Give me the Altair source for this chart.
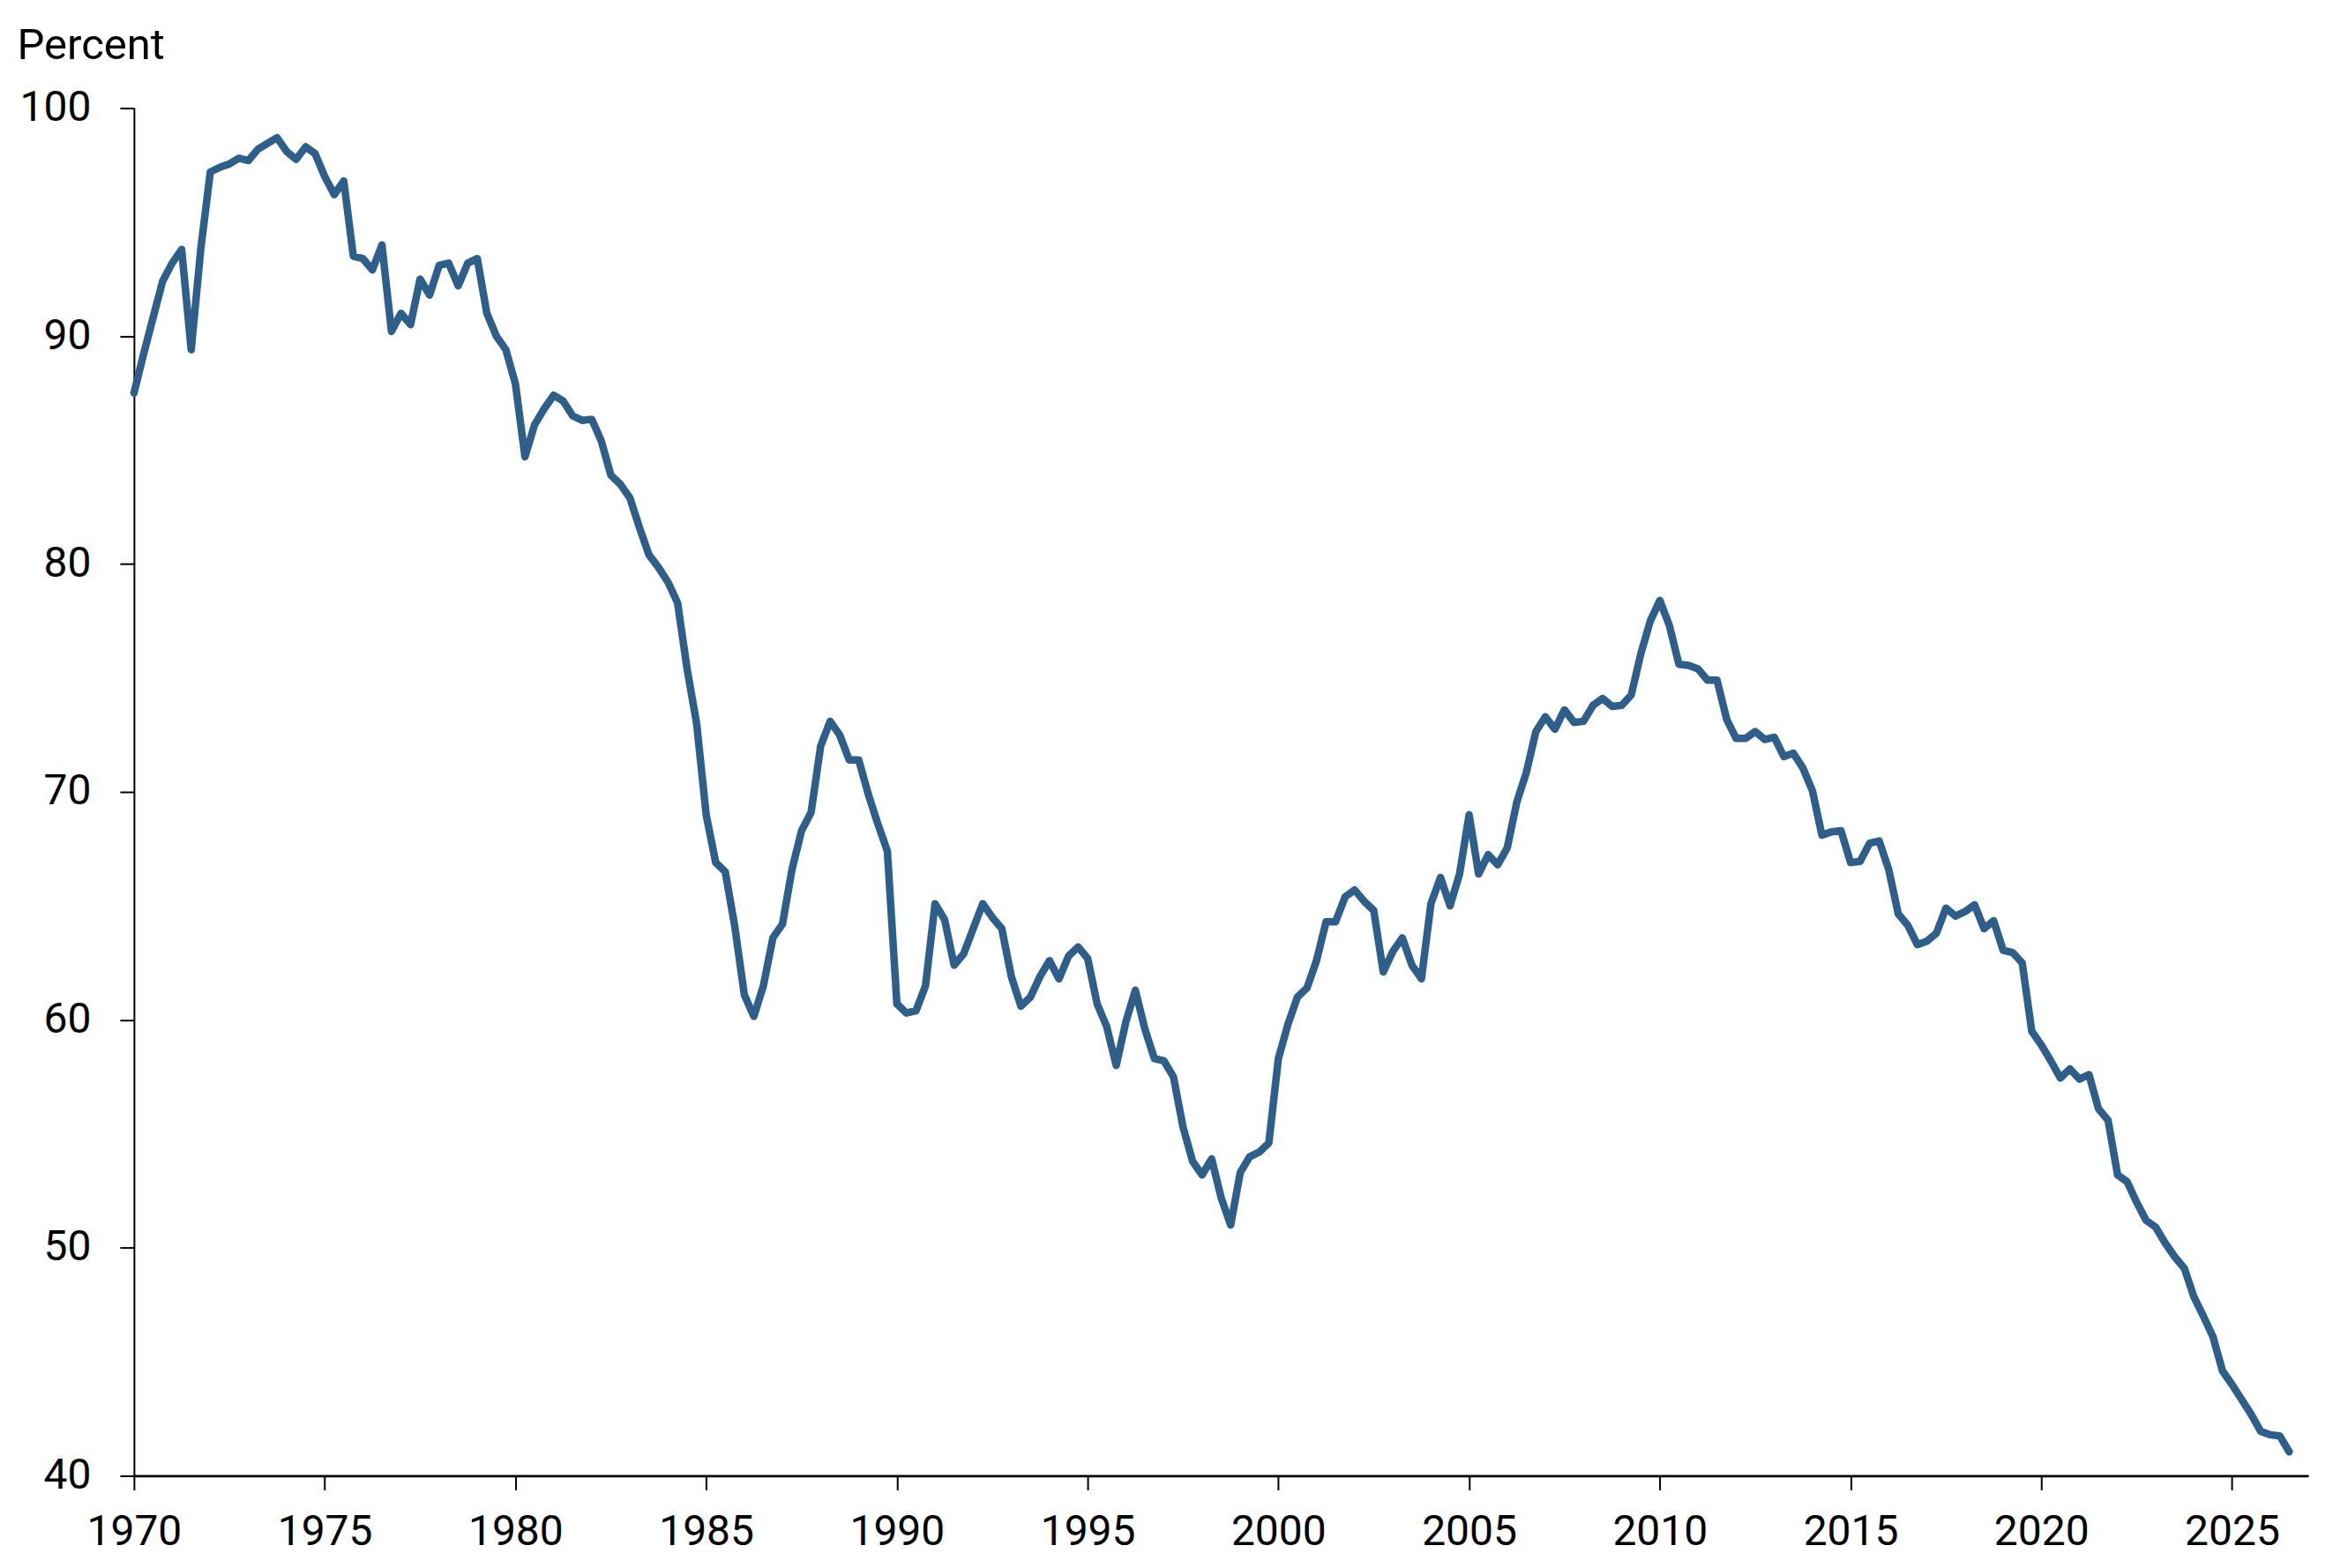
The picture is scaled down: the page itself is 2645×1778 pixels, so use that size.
import altair as alt
import pandas as pd

# Quarterly values, 1970Q1 .. 2026Q3 (percent)
share = [
    87.5, 89.2, 90.8, 92.4, 93.2, 93.8, 89.4, 93.8,   # 1970-1971
    97.2, 97.4, 97.55, 97.8, 97.7, 98.2, 98.45, 98.7,  # 1972-1973
    98.1, 97.75, 98.3, 98.0, 97.0, 96.2, 96.8, 93.5,   # 1974-1975
    93.4, 92.9, 94.0, 90.2, 91.0, 90.5, 92.5, 91.8,    # 1976-1977
    93.1, 93.2, 92.2, 93.2, 93.4, 91.0, 90.0, 89.4,    # 1978-1979
    87.9, 84.7, 86.1, 86.8, 87.4, 87.15, 86.5, 86.3,   # 1980-1981
    86.35, 85.4, 83.9, 83.5, 82.9, 81.6, 80.4, 79.85,  # 1982-1983
    79.2, 78.3, 75.4, 73.0, 69.0, 66.9, 66.5, 64.1,    # 1984-1985
    61.1, 60.15, 61.5, 63.6, 64.2, 66.6, 68.3, 69.1,   # 1986-1987
    72.0, 73.1, 72.5, 71.4, 71.4, 69.9, 68.6, 67.4,    # 1988-1989
    60.7, 60.3, 60.4, 61.5, 65.1, 64.4, 62.4, 62.9,    # 1990-1991
    64.0, 65.1, 64.5, 64.0, 61.9, 60.6, 61.0, 61.9,    # 1992-1993
    62.6, 61.8, 62.8, 63.2, 62.7, 60.7, 59.7, 58.0,    # 1994-1995
    59.9, 61.3, 59.6, 58.3, 58.2, 57.5, 55.3, 53.8,    # 1996-1997
    53.2, 53.9, 52.2, 51.0, 53.3, 54.0, 54.2, 54.6,    # 1998-1999
    58.3, 59.8, 61.0, 61.4, 62.6, 64.3, 64.3, 65.4,    # 2000-2001
    65.7, 65.2, 64.8, 62.1, 63.0, 63.6, 62.4, 61.8,    # 2002-2003
    65.1, 66.25, 65.0, 66.4, 69.0, 66.4, 67.25, 66.8,  # 2004-2005
    67.55, 69.55, 70.85, 72.65, 73.3, 72.75, 73.6, 73.05,  # 2006-2007
    73.1, 73.8, 74.1, 73.75, 73.8, 74.25, 76.05, 77.5,  # 2008-2009
    78.4, 77.3, 75.6, 75.55, 75.4, 74.9, 74.9, 73.2,    # 2010-2011
    72.35, 72.35, 72.65, 72.3, 72.4, 71.55, 71.7, 71.05,  # 2012-2013
    70.05, 68.1, 68.25, 68.3, 66.9, 66.95, 67.75, 67.85,  # 2014-2015
    66.6, 64.65, 64.15, 63.3, 63.45, 63.8, 64.9, 64.55,   # 2016-2017
    64.75, 65.05, 64.0, 64.35, 63.05, 62.95, 62.5, 59.5,  # 2018-2019
    58.9, 58.2, 57.45, 57.85, 57.4, 57.6, 56.1, 55.6,     # 2020-2021
    53.2, 52.9, 52.0, 51.2, 50.9, 50.2, 49.6, 49.1,       # 2022-2023
    47.85, 47.0, 46.1, 44.6, 44.0, 43.35, 42.7, 41.95,    # 2024-2025
    41.8, 41.75, 41.05,                                    # 2026
]
start_year = 1970
x_ticks = [1970, 1975, 1980, 1985, 1990, 1995, 2000, 2005, 2010, 2015, 2020, 2025]
y_ticks = [40, 50, 60, 70, 80, 90, 100]
y_title = "Percent"

df = pd.DataFrame({
    "year": [start_year + i / 4 for i in range(len(share))],
    "share": share,
})

FONT = "Roboto"

chart = (
    alt.Chart(df)
    .mark_line(color="#2E5E8A", strokeWidth=8.5, strokeJoin="round", strokeCap="round")
    .encode(
        x=alt.X(
            "year:Q",
            scale=alt.Scale(domain=[1970, 2027], nice=False, zero=False),
            axis=alt.Axis(
                values=x_ticks, format="d", title=None,
                labelFlush=False, labelOverlap=False,
                tickSize=16, tickWidth=2, domainWidth=2.7,
                labelPadding=24, labelFontSize=48,
            ),
        ),
        y=alt.Y(
            "share:Q",
            scale=alt.Scale(domain=[40, 100], nice=False, zero=False),
            axis=alt.Axis(
                values=y_ticks, title=y_title, titleAngle=0,
                titleAlign="left", titleBaseline="alphabetic",
                titleX=-133, titleY=-56, titleFontSize=49,
                titleFontWeight="normal", titleFont=FONT, titleColor="#000000",
                tickSize=16, tickWidth=2, domainWidth=2,
                labelPadding=33, labelFontSize=48,
            ),
        ),
    )
    .properties(
        width=2467,
        height=1552,
        autosize=alt.AutoSizeParams(type="none"),
        padding={"left": 144, "top": 114, "right": 20, "bottom": 100},
    )
    .configure_view(stroke=None)
    .configure_axis(
        grid=False,
        domainColor="#000000",
        tickColor="#000000",
        labelColor="#000000",
        labelFont=FONT,
    )
)

chart.save("out.html", embed_options={"renderer": "svg", "actions": False})
